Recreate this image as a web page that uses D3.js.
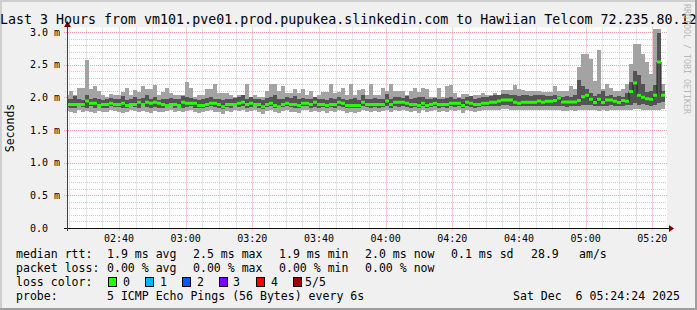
<!DOCTYPE html>
<html><head><meta charset="utf-8">
<script src="https://cdn.jsdelivr.net/npm/d3@7"></script>
<style>body{margin:0;background:#f0f0f0}svg{display:block}text{font-family:"DejaVu Sans Mono",monospace}</style>
</head><body><svg id="c" width="697" height="310"></svg>
<script>
const title = "Last 3 Hours from vm101.pve01.prod.pupukea.slinkedin.com to Hawiian Telcom 72.235.80.12";
const axisTitle = "Seconds";
const watermark = "RRDTOOL / TOBI OETIKER";
const viewStart = new Date(2025, 11, 6, 2, 24, 24);
const viewEnd = new Date(2025, 11, 6, 5, 24, 24);
const firstSample = new Date(2025, 11, 6, 2, 23, 48);
const stepSeconds = 72;
const yTicks = [0, 0.5, 1.0, 1.5, 2.0, 2.5, 3.0];
const yTickLabels = ["0.0  ", "0.5 m", "1.0 m", "1.5 m", "2.0 m", "2.5 m", "3.0 m"];

// RTT in milliseconds, 5 pings sorted: min, 2nd, median, 4th, max
const pingMin = [
1.79,1.77,1.76,1.80,1.78,1.79,1.77,1.76,1.79,1.78,1.77,1.80,1.79,1.77,1.76,1.78,1.80,1.79,1.77,1.79,1.78,1.76,1.79,1.78,1.77,1.79,1.80,1.78,1.79,1.77,
1.79,1.80,1.78,1.76,1.77,1.79,1.80,1.78,1.77,1.75,1.79,1.78,1.80,1.79,1.80,1.77,1.79,1.80,1.78,1.75,1.79,1.80,1.77,1.76,1.79,1.80,1.78,1.77,1.76,1.80,
1.80,1.78,1.79,1.77,1.79,1.76,1.79,1.77,1.80,1.79,1.76,1.78,1.76,1.77,1.80,1.79,1.77,1.79,1.78,1.79,1.81,1.77,1.80,1.79,1.80,1.79,1.78,1.79,1.76,1.80,
1.77,1.79,1.80,1.78,1.79,1.77,1.80,1.79,1.80,1.76,1.80,1.79,1.78,1.79,1.80,1.80,1.81,1.80,1.81,1.82,1.82,1.81,1.80,1.80,1.81,1.80,1.81,1.80,1.81,1.80,
1.80,1.80,1.80,1.81,1.79,1.79,1.80,1.79,1.80,1.81,1.81,1.81,1.80,1.79,1.80,1.79,1.81,1.80,1.80,1.81,1.80,1.81,1.82,1.82,1.81,1.81,1.81,1.80,1.81,1.82];
const ping2 = [
1.85,1.84,1.83,1.86,1.85,1.84,1.86,1.84,1.85,1.83,1.84,1.86,1.85,1.85,1.83,1.84,1.86,1.85,1.84,1.86,1.85,1.83,1.85,1.84,1.83,1.85,1.86,1.84,1.85,1.84,
1.85,1.86,1.84,1.83,1.84,1.85,1.86,1.85,1.84,1.82,1.85,1.84,1.86,1.85,1.86,1.84,1.85,1.86,1.84,1.82,1.85,1.86,1.84,1.83,1.85,1.86,1.85,1.84,1.83,1.86,
1.86,1.84,1.85,1.84,1.85,1.83,1.85,1.84,1.86,1.85,1.83,1.84,1.83,1.84,1.86,1.85,1.84,1.85,1.84,1.85,1.87,1.84,1.86,1.85,1.86,1.85,1.84,1.85,1.83,1.86,
1.84,1.85,1.86,1.84,1.85,1.84,1.86,1.85,1.86,1.83,1.86,1.85,1.84,1.85,1.86,1.86,1.87,1.86,1.87,1.88,1.88,1.87,1.86,1.86,1.87,1.86,1.87,1.86,1.87,1.86,
1.86,1.86,1.86,1.87,1.86,1.85,1.86,1.86,1.87,1.88,1.89,1.88,1.86,1.87,1.86,1.87,1.88,1.87,1.86,1.87,1.88,1.89,1.92,1.88,1.90,1.89,1.87,1.88,1.91,1.93];
const median = [
1.89,1.89,1.89,1.89,1.89,1.945,1.91,1.91,1.875,1.89,1.89,1.91,1.89,1.89,1.91,1.875,1.89,1.89,1.925,1.89,1.925,1.91,1.925,1.91,1.89,1.875,1.89,1.89,1.875,1.925,
1.91,1.91,1.91,1.875,1.875,1.89,1.91,1.91,1.89,1.855,1.89,1.89,1.89,1.91,1.925,1.89,1.91,1.89,1.89,1.855,1.89,1.91,1.875,1.855,1.89,1.91,1.89,1.89,1.875,1.91,
1.91,1.89,1.925,1.89,1.89,1.875,1.89,1.89,1.925,1.91,1.875,1.875,1.875,1.875,1.925,1.89,1.89,1.89,1.89,1.89,1.945,1.89,1.925,1.925,1.925,1.91,1.89,1.89,1.875,1.91,
1.875,1.89,1.91,1.89,1.89,1.89,1.91,1.91,1.91,1.875,1.925,1.91,1.89,1.89,1.91,1.91,1.925,1.925,1.945,1.96,1.96,1.96,1.925,1.91,1.925,1.925,1.925,1.925,1.945,1.925,
1.94,1.94,1.95,1.99,1.93,1.93,1.93,1.93,1.95,2.01,2.03,1.97,1.92,1.97,1.92,1.96,1.96,1.94,1.92,1.95,1.94,2.09,2.22,2.03,2.00,1.98,1.97,2.03,2.54,2.03];
const ping4 = [
1.98,1.97,2.02,1.98,1.96,2.03,1.97,1.99,1.98,1.96,1.97,1.99,1.97,1.98,2.02,1.96,1.97,2.00,1.98,1.99,2.04,1.98,2.01,1.96,1.98,1.97,1.99,1.98,1.97,2.02,
2.00,1.99,1.97,1.96,1.98,1.99,2.01,1.98,1.97,1.96,1.98,1.97,1.99,2.00,2.04,1.98,2.01,1.97,1.98,1.96,1.99,2.00,2.03,1.97,1.98,2.01,1.99,2.02,1.97,1.99,
1.98,1.97,2.00,1.97,1.98,1.96,1.99,1.97,2.01,1.98,1.96,1.97,1.99,1.96,2.03,1.98,1.97,1.99,1.98,1.97,2.05,1.98,2.00,2.01,1.99,2.02,1.98,1.99,2.01,2.00,
1.98,1.97,1.99,1.98,1.97,1.99,2.01,1.98,1.99,1.97,2.00,2.02,1.98,1.99,2.00,2.01,2.02,2.03,2.04,2.05,2.05,2.04,2.03,2.02,2.03,2.04,2.02,2.03,2.04,2.03,
2.02,2.02,2.03,2.02,2.00,2.02,2.00,2.04,2.26,2.18,2.13,2.06,2.02,2.05,2.09,2.02,2.03,2.00,2.02,2.01,2.07,2.23,2.41,2.34,2.21,2.08,2.09,2.19,2.99,2.09];
const pingMax = [
2.04,2.09,2.03,2.15,2.15,2.57,2.13,2.17,2.09,2.03,2.01,2.05,2.03,2.03,2.08,2.15,2.03,2.11,2.08,2.17,2.12,2.12,2.19,2.03,2.08,2.15,2.06,2.03,2.03,2.03,
2.23,2.14,2.01,2.03,2.03,2.12,2.12,2.20,2.07,2.06,2.06,2.03,2.01,2.03,2.03,2.21,2.01,2.03,2.01,2.00,2.09,2.20,2.21,2.09,2.18,2.06,2.07,2.13,2.06,2.13,
2.04,2.09,2.01,2.03,2.08,2.08,2.21,2.07,2.08,2.14,2.04,2.21,2.03,2.11,2.12,2.03,2.20,2.03,2.03,2.14,2.09,2.20,2.09,2.09,2.10,2.03,2.09,2.14,2.08,2.14,
2.13,2.00,2.01,2.15,2.00,2.18,2.19,2.07,2.01,2.05,2.05,2.01,2.03,2.03,2.06,2.04,2.04,2.06,2.04,2.11,2.11,2.11,2.19,2.12,2.11,2.10,2.10,2.10,2.09,2.08,
2.08,2.08,2.18,2.10,2.10,2.10,2.17,2.13,2.46,2.66,2.66,2.59,2.25,2.73,2.12,2.20,2.14,2.10,2.10,2.13,2.20,2.51,2.82,2.82,2.66,2.54,2.36,3.04,3.04,2.20];

const legendRows = [
  [["median rtt:",16],["1.9 ms avg",107],["2.5 ms max",193],["1.9 ms min",279],["2.0 ms now",365],["0.1 ms sd",451],["28.9",531],["am/s",579]],
  [["packet loss:",16],["0.00 % avg",107],["0.00 % max",193],["0.00 % min",279],["0.00 % now",365]],
  [["loss color:",16]],
  [["probe:",16],["5 ICMP Echo Pings (56 Bytes) every 6s",107],["Sat Dec  6 05:24:24 2025",513]]
];
const lossLabels = ["0","1","2","3","4","5/5"];
const lossColors = ["#26ff00","#00b8ff","#0059ff","#7e00ff","#ff0000","#a10000"];
const lossBoxX = [108,145,182,219,256,293];
const lossTextX = [123,160,197,233,271,305];

const svg = d3.select("#c");
const W = 697, H = 310;
const L = 67, R = 667, B = 228;
const x = d3.scaleTime().domain([viewStart, viewEnd]).range([L, R]);
const y = d3.scaleLinear().domain([0, 3.0]).range([B, 32]);
const plotTop = y(3.07);

svg.append("rect").attr("width", W).attr("height", H).attr("fill", "#f0f0f0");
// frame shading
svg.append("rect").attr("x",0).attr("y",0).attr("width",W).attr("height",2).attr("fill","#cfcfcf");
svg.append("rect").attr("x",0).attr("y",0).attr("width",2).attr("height",H).attr("fill","#cfcfcf");
svg.append("rect").attr("x",W-2).attr("y",0).attr("width",2).attr("height",H).attr("fill","#9e9e9e");
svg.append("rect").attr("x",0).attr("y",H-2).attr("width",W).attr("height",2).attr("fill","#9e9e9e");

svg.append("rect").attr("x", L).attr("y", plotTop).attr("width", R - L).attr("height", B - plotTop).attr("fill", "#fff");

svg.append("defs").append("clipPath").attr("id","clip")
  .append("rect").attr("x", L).attr("y", plotTop).attr("width", R - L).attr("height", B - plotTop);

// grid
const g = svg.append("g");
const minorY = d3.range(1, 31).map(d => d / 10).filter(v => Math.abs(v * 2 - Math.round(v * 2)) > 1e-6);
g.selectAll(".gy").data(minorY).join("line")
  .attr("x1", L - 2).attr("x2", R).attr("y1", d => Math.round(y(d)) + 0.5).attr("y2", d => Math.round(y(d)) + 0.5)
  .attr("stroke", "#cfcfcf").attr("stroke-dasharray", "1,1");
const minorX = d3.timeMinute.every(5).range(viewStart, viewEnd).filter(t => t.getMinutes() % 20 !== 0);
g.selectAll(".gx").data(minorX).join("line")
  .attr("y1", plotTop).attr("y2", B + 2).attr("x1", d => Math.round(x(d)) + 0.5).attr("x2", d => Math.round(x(d)) + 0.5)
  .attr("stroke", "#cfcfcf").attr("stroke-dasharray", "1,1");
g.selectAll(".my").data(yTicks.slice(1)).join("line")
  .attr("x1", L - 3).attr("x2", R).attr("y1", d => Math.round(y(d)) + 0.5).attr("y2", d => Math.round(y(d)) + 0.5)
  .attr("stroke", "#f0a0a0").attr("stroke-dasharray", "1,1");
const majorX = d3.timeMinute.every(20).range(viewStart, viewEnd);
g.selectAll(".mx").data(majorX).join("line")
  .attr("y1", plotTop).attr("y2", B + 3).attr("x1", d => Math.round(x(d)) + 0.5).attr("x2", d => Math.round(x(d)) + 0.5)
  .attr("stroke", "#f0a0a0").attr("stroke-dasharray", "1,1");

// data
const rows = median.map((m, i) => {
  const t0 = new Date(firstSample.getTime() + i * stepSeconds * 1000);
  const t1 = new Date(t0.getTime() + stepSeconds * 1000);
  return {t0, t1, p1: pingMin[i], p2: ping2[i], med: m, p4: ping4[i], p5: pingMax[i]};
});
const dg = svg.append("g").attr("clip-path", "url(#clip)");
dg.selectAll(".s1").data(rows).join("rect")
  .attr("x", d => x(d.t0)).attr("width", d => x(d.t1) - x(d.t0))
  .attr("y", d => y(d.p5)).attr("height", d => y(d.p1) - y(d.p5))
  .attr("fill", "#a3a3a3").attr("shape-rendering", "crispEdges");
dg.selectAll(".s2").data(rows).join("rect")
  .attr("x", d => x(d.t0)).attr("width", d => x(d.t1) - x(d.t0))
  .attr("y", d => y(d.p4)).attr("height", d => y(d.p2) - y(d.p4))
  .attr("fill", "#545454").attr("shape-rendering", "crispEdges");
const pts = rows.map(d => [x(d.t0), y(d.med)]);
pts.push([x(rows[rows.length - 1].t1), y(rows[rows.length - 1].med)]);
dg.append("path").attr("d", d3.line().curve(d3.curveStepAfter)(pts))
  .attr("fill", "none").attr("stroke", "#202020").attr("stroke-width", 1);
dg.selectAll(".md").data(rows).join("line")
  .attr("x1", d => x(d.t0)).attr("x2", d => x(d.t1))
  .attr("y1", d => y(d.med)).attr("y2", d => y(d.med))
  .attr("stroke", lossColors[0]).attr("stroke-width", 3);

// axes
svg.append("line").attr("x1", L - 3).attr("x2", R + 3).attr("y1", B + 0.5).attr("y2", B + 0.5).attr("stroke", "#101010");
svg.append("line").attr("x1", L + 0.5).attr("x2", L + 0.5).attr("y1", B + 3).attr("y2", 25).attr("stroke", "#404040");
svg.append("path").attr("d", `M${R+2},${B-3}L${R+7},${B+0.5}L${R+2},${B+4}Z`).attr("fill", "#7f0000");
svg.append("path").attr("d", `M${L-3},${27}L${L+0.5},${21}L${L+4},${27}Z`).attr("fill", "#7f0000");

const tf = d3.timeFormat("%H:%M");
svg.selectAll(".xl").data(majorX).join("text")
  .attr("x", d => x(d)).attr("y", 241.5).attr("text-anchor", "middle")
  .attr("font-size", "10px").attr("fill", "#000").text(d => tf(d));
svg.selectAll(".yl").data(yTicks).join("text")
  .attr("x", 30).attr("y", d => y(d) + 3.5).attr("xml:space", "preserve")
  .attr("font-size", "10px").attr("fill", "#000").text((d, i) => yTickLabels[i]);

// titles
svg.append("text").attr("x", 0).attr("y", 23.5).attr("font-size", "13.3px").attr("fill", "#000").text(title);
svg.append("text").attr("transform", "translate(14,128) rotate(-90)").attr("text-anchor", "middle")
  .attr("font-size", "11.5px").attr("fill", "#000").text(axisTitle);
svg.append("text").attr("transform", "translate(684,4) rotate(90)").attr("text-anchor", "start")
  .attr("font-size", "8.3px").attr("fill", "#b8b8b8").text(watermark);

// legend
const rowY = [254.3, 268.3, 282.3, 296.2];
legendRows.forEach((row, r) => {
  row.forEach(([t, px]) => {
    svg.append("text").attr("x", px).attr("y", rowY[r] + 4).attr("xml:space", "preserve")
      .attr("font-size", "11.55px").attr("fill", "#000").text(t);
  });
});
lossLabels.forEach((lab, i) => {
  svg.append("rect").attr("x", lossBoxX[i] + 0.5).attr("y", 277.5).attr("width", 8).attr("height", 9)
    .attr("fill", lossColors[i]).attr("stroke", "#000").attr("stroke-width", 1);
  svg.append("text").attr("x", lossTextX[i]).attr("y", rowY[2] + 4)
    .attr("font-size", "11.55px").attr("fill", "#000").text(lab);
});
</script></body></html>
